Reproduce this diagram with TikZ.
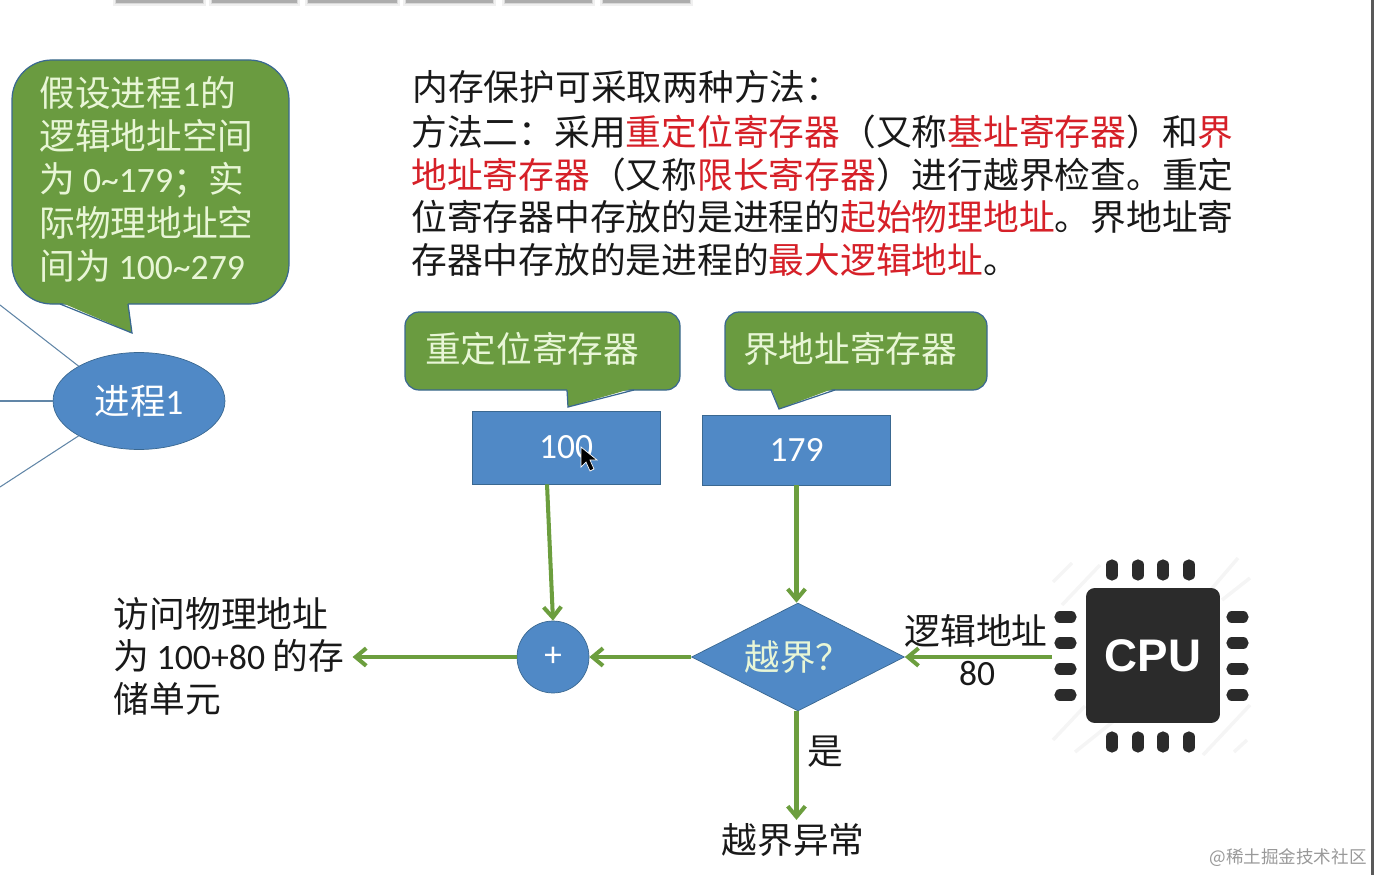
\documentclass[tikz,border=0pt]{standalone}
\usepackage{xcolor}
\usepackage{fontspec}
\setmainfont{Noto Sans CJK SC}
\newfontfamily\latfont{Carlito}
\newfontfamily\cpufont{Liberation Sans}
\usetikzlibrary{shapes.geometric, arrows.meta, positioning, calc}
\definecolor{bubblegreen}{RGB}{106, 155, 64}
\definecolor{bubbletext}{RGB}{232, 246, 214}
\definecolor{edgeblue}{RGB}{58, 104, 145}
\definecolor{boxblue}{RGB}{80, 137, 198}
\definecolor{flowgreen}{RGB}{108, 158, 62}
\definecolor{memred}{RGB}{214, 32, 40}
\definecolor{chipgray}{RGB}{43, 43, 43}
\newcommand{\lat}[1]{{\latfont #1}}
\tikzstyle{bubble} = [
    fill=bubblegreen,
    draw=edgeblue,
    line width=0.7pt
]
\tikzstyle{bubbleedge} = [
    draw=edgeblue,
    line width=0.7pt
]
\tikzstyle{bubblelabel} = [
    inner sep=0pt,
    text=bubbletext,
    font=\fontsize{20.3}{24.6}\selectfont
]
\tikzstyle{block} = [
    rectangle,
    minimum width=3.76cm,
    minimum height=1.46cm,
    draw=edgeblue,
    fill=boxblue,
    text=white,
    font=\fontsize{20.2}{24}\selectfont\latfont
]
\tikzstyle{label} = [
    inner sep=0pt,
    text=black!90,
    font=\fontsize{20.35}{24.2}\selectfont
]
\tikzstyle{arrow} = [
    line width=2.3pt,
    -{Straight Barb[length=6pt, width=10pt, line width=2.3pt]},
    color=flowgreen
]
\tikzstyle{thinline} = [
    line width=0.6pt,
    color=edgeblue!80
]
\tikzstyle{pin} = [
    line width=6.4pt,
    line cap=round,
    color=chipgray
]
\begin{document}
\begin{tikzpicture}[x=0.02cm, y=-0.02cm]
        \useasboundingbox (0,0) rectangle (1374,875);
        % Window edges
        \foreach \xa/\xb in {116/203, 212/297, 308/397, 406/493, 505/592, 603/690} {
            \fill[black!6] (\xa-3,0) rectangle (\xb+3,6);
            \fill[black!15] (\xa-1,0) rectangle (\xb+1,4.5);
            \fill[black!32] (\xa,0) rectangle (\xb,3);
        }
        \fill[black!65] (1371,0) rectangle (1374,875);

        % Callouts
        \draw[bubble, rounded corners=22.7pt] (12,60) rectangle (289,304);
        \fill[bubblegreen] (60,302) -- (132,333) -- (128,302) -- cycle;
        \draw[bubbleedge] (60,304) -- (132,333) -- (128,304);
        \draw[bubble, rounded corners=8pt] (405,312) rectangle (680,390);
        \fill[bubblegreen] (567,388) -- (568,407) -- (634,388) -- cycle;
        \draw[bubbleedge] (567,390) -- (568,407) -- (634,390);
        \draw[bubble, rounded corners=8pt] (725,312) rectangle (987,390);
        \fill[bubblegreen] (771,388) -- (779,409) -- (835,388) -- cycle;
        \draw[bubbleedge] (771,390) -- (779,409) -- (835,390);
        \node[bubblelabel, anchor=north west, align=left] (assume) at (39,76) {假设进程\lat{1}的\\逻辑地址空间\\为 \lat{0\char`\~179}；实\\际物理地址空\\间为 \lat{100\char`\~279}};
        \node[bubblelabel] (relocname) at (532,349) {重定位寄存器};
        \node[bubblelabel] (limitname) at (850,349) {界地址寄存器};

        % Text
        \node[label, anchor=west] (title) at (412,87) {内存保护可采取两种方法：};
        \node[label, anchor=north west, align=left] (method) at (411,115) {方法二：采用\textcolor{memred}{重定位寄存器}（又称\textcolor{memred}{基址寄存器}）和\textcolor{memred}{界}\\\textcolor{memred}{地址寄存器}（又称\textcolor{memred}{限长寄存器}）进行越界检查。重定\\位寄存器中存放的是进程的\textcolor{memred}{起始物理地址}。界地址寄\\存器中存放的是进程的\textcolor{memred}{最大逻辑地址}。};

        % Nodes
        \node[ellipse, minimum width=3.44cm, minimum height=1.94cm, draw=edgeblue, fill=boxblue, text=white, inner sep=0pt, font=\fontsize{20.2}{24}\selectfont] (proc) at (139,401) {进程\lat{1}};
        \node[block] (reloc) at (566,447.5) {100};
        \node[block, minimum height=1.4cm] (limit) at (796.5,450) {179};
        \node[circle, minimum size=1.44cm, inner sep=0pt, draw=edgeblue, fill=boxblue, text=white, font=\fontsize{20}{24}\selectfont\latfont] (adder) at (553,657) {\raisebox{-1pt}{+}};
        \node[diamond, aspect=2, minimum width=4.26cm, minimum height=2.16cm, inner sep=0pt, draw=edgeblue, fill=boxblue, text=bubbletext, font=\fontsize{20.2}{24}\selectfont] (check) at (798,657) {越界？};
        \node[label, anchor=west, align=left, outer sep=5pt] (result) at (105,656) {访问物理地址\\为\hspace{0.2em}\lat{100+80}\hspace{0.2em}的存\\储单元};
        \node[label, outer sep=2pt] (trap) at (793,840) {越界异常};
        \node[label] (logic) at (976,631) {逻辑地址};
        \node[label, font=\fontsize{20.2}{24}\selectfont\latfont] (offset) at (977,674) {80};
        \node[label] (yes) at (825,752) {是};

        % Chip
        \foreach \xa/\ya/\xb/\yb in {1053/582/1072/563, 1062/605/1100/565, 1208/593/1238/558, 1222/600/1250/578, 1053/740/1085/706, 1075/752/1115/720, 1203/755/1250/705, 1234/752/1247/740} {
            \draw[black!4, line width=2pt] (\xa,\ya) -- (\xb,\yb);
        }
        \node[rectangle, rounded corners=5pt, minimum width=2.68cm, minimum height=2.7cm, fill=chipgray, text=white, font=\fontsize{26}{30}\selectfont\cpufont\bfseries] (cpu) at (1153,655.5) {CPU};
        \foreach \x in {1112, 1138, 1163, 1189} {
            \draw[pin] (\x,565) -- (\x,575);
            \draw[pin] (\x,737) -- (\x,747);
        }
        \foreach \y in {617, 643, 669, 695} {
            \draw[pin] (1060,\y) -- (1071,\y);
            \draw[pin] (1232,\y) -- (1243,\y);
        }
        \coordinate (cpuport) at (1052,657);

        % Flow arrows
        \draw[arrow] ([xshift=-10.8pt]reloc.south) -- (adder.north);
        \draw[arrow] (limit.south) -- (limit.south |- check.north);
        \draw[arrow] (cpuport) -- (check.east);
        \draw[arrow] (check.west) -- (adder.east);
        \draw[arrow] (adder.west) -- (result.east |- adder.west);
        \draw[arrow] (limit.south |- check.south) -- (limit.south |- trap.north);

        % Lines to the left edge
        \coordinate (edgea) at (0,305);
        \coordinate (edgeb) at (0,401);
        \coordinate (edgec) at (0,487);
        \draw[thinline] (edgea) -- (proc.150);
        \draw[thinline] (edgeb) -- (proc.west);
        \draw[thinline] (edgec) -- (proc.210);

        % Cursor
        \draw[fill=black, draw=white, line width=0.4pt] (581,447) -- (581,467) -- (586,462) -- (590,471) -- (594,469) -- (590,460) -- (597,460) -- cycle;

        % Watermark
        \node[inner sep=0pt, anchor=east, text=black!40, font=\fontsize{10}{12}\selectfont] (mark) at (1367,858) {@稀土掘金技术社区};
    \end{tikzpicture}
\end{document}
